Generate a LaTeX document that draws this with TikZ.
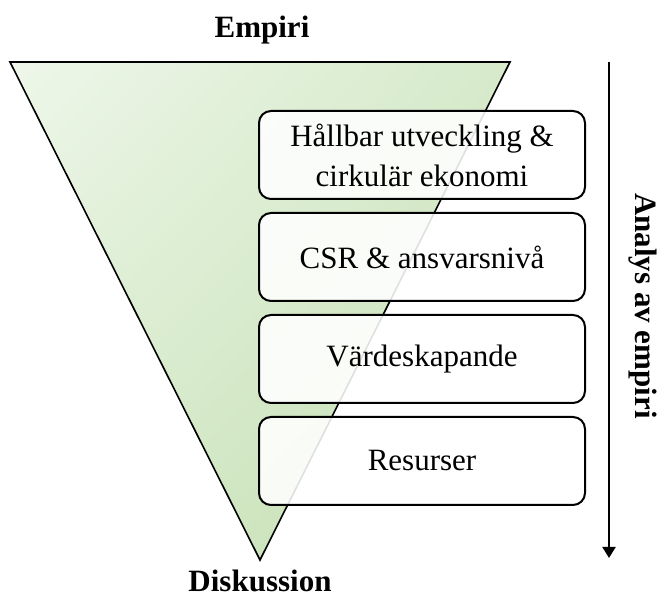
\documentclass[tikz,border=0pt]{standalone}
\usepackage{fontspec}
\setmainfont{Liberation Serif}
\usetikzlibrary{positioning,arrows.meta,shadings}
\definecolor{palegreen}{HTML}{EEF7EA}
\definecolor{funnelgreen}{HTML}{C3DFB1}
\tikzset{
    theme/.style={draw, line width=1pt, rounded corners=6pt, fill=white, fill opacity=0.88, text opacity=1,
        minimum width=163pt, minimum height=44pt, inner sep=2pt, align=center,
        font=\fontsize{15.5}{20}\selectfont},
    heading/.style={font=\fontsize{15.5}{19}\selectfont\bfseries}
}
\begin{document}
\begin{tikzpicture}[x=0.5pt, y=0.5pt]
    \useasboundingbox (0, 0) rectangle (658, 598);
    \shadedraw[line width=0.8pt, upper left=palegreen, lower right=funnelgreen,
        upper right=palegreen!45!funnelgreen, lower left=palegreen!45!funnelgreen]
        (10, 536) -- (510, 536) -- (260, 38) -- cycle;
    \node[heading, anchor=base] (empiri) at (262, 560) {Empiri};
    \node[heading, anchor=base] (diskussion) at (260, 6) {Diskussion};
    \node[theme] (hallbar) at (422, 443) {Hållbar utveckling \&\\cirkulär ekonomi};
    \node[theme, below=6pt of hallbar] (csr) {CSR \& ansvarsnivå};
    \node[theme, below=6pt of csr] (varde) {Värdeskapande};
    \node[theme, below=6pt of varde] (resurser) {Resurser};
    \coordinate (arrtop) at (609, 536);
    \coordinate (arrbot) at (609, 40);
    \draw[line width=1pt, -{Triangle[width=6.5pt, length=5.5pt]}] (arrtop) -- (arrbot);
    \node[heading, rotate=-90] (analys) at (643, 292) {Analys av empiri};
\end{tikzpicture}
\end{document}
